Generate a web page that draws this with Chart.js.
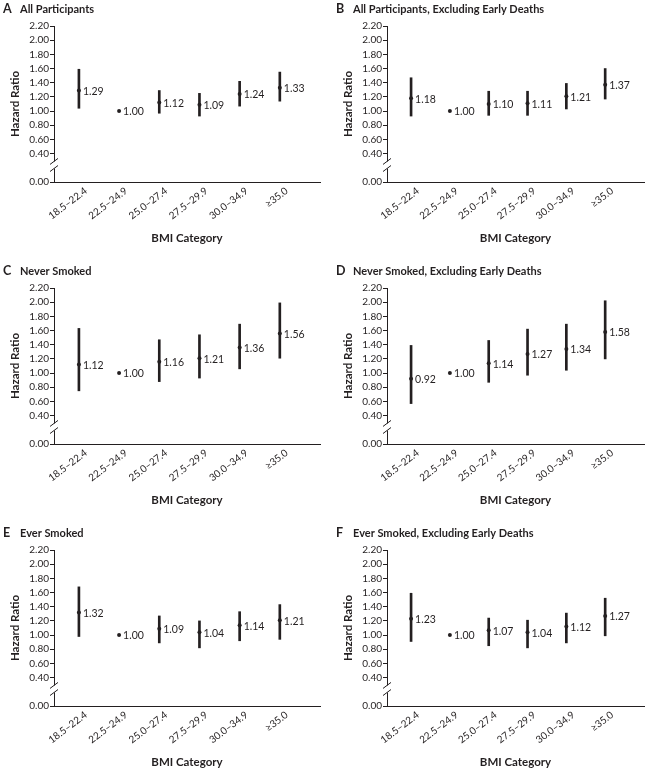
<!DOCTYPE html>
<html>
<head>
<meta charset="utf-8">
<script src="https://cdn.jsdelivr.net/npm/chart.js@4.4.1/dist/chart.umd.min.js"></script>
<style>
    body { margin: 0; background: #fff; }
    #wrap { position: relative; width: 648px; height: 773px; background: #fff; }
    #wrap canvas { position: absolute; }
</style>
</head>
<body>
<div id="wrap"></div>
<script>
// BMI categories on the x axis
const bmiLabels = ['18.5–22.4', '22.5–24.9', '25.0–27.4', '27.5–29.9', '30.0–34.9', '≥35.0'];
// y ticks (0.20 is left out, the axis is broken there)
const yTicks = [0, 0.4, 0.6, 0.8, 1.0, 1.2, 1.4, 1.6, 1.8, 2.0, 2.2];

const panelLetters = ['A', 'B', 'C', 'D', 'E', 'F'];
const panelTitles = [
    'All Participants',
    'All Participants, Excluding Early Deaths',
    'Never Smoked',
    'Never Smoked, Excluding Early Deaths',
    'Ever Smoked',
    'Ever Smoked, Excluding Early Deaths'
];

// hazard ratios and 95% CI per panel (reference category has no CI)
const hrA = [1.29, 1.00, 1.12, 1.09, 1.24, 1.33];
const lowA = [1.04, null, 0.97, 0.93, 1.07, 1.14];
const highA = [1.59, null, 1.29, 1.25, 1.42, 1.55];

const hrB = [1.18, 1.00, 1.10, 1.11, 1.21, 1.37];
const lowB = [0.93, null, 0.94, 0.94, 1.03, 1.17];
const highB = [1.47, null, 1.28, 1.28, 1.39, 1.60];

const hrC = [1.12, 1.00, 1.16, 1.21, 1.36, 1.56];
const lowC = [0.75, null, 0.88, 0.93, 1.06, 1.21];
const highC = [1.63, null, 1.47, 1.54, 1.69, 1.99];

const hrD = [0.92, 1.00, 1.14, 1.27, 1.34, 1.58];
const lowD = [0.57, null, 0.87, 0.97, 1.04, 1.20];
const highD = [1.39, null, 1.46, 1.62, 1.69, 2.02];

const hrE = [1.32, 1.00, 1.09, 1.04, 1.14, 1.21];
const lowE = [0.98, null, 0.89, 0.82, 0.92, 0.94];
const highE = [1.68, null, 1.27, 1.20, 1.33, 1.43];

const hrF = [1.23, 1.00, 1.07, 1.04, 1.12, 1.27];
const lowF = [0.91, null, 0.85, 0.82, 0.89, 0.99];
const highF = [1.59, null, 1.24, 1.21, 1.31, 1.52];

const panelHr = [hrA, hrB, hrC, hrD, hrE, hrF];
const panelLow = [lowA, lowB, lowC, lowD, lowE, lowF];
const panelHigh = [highA, highB, highC, highD, highE, highF];

const INK = '#231f20';
const FONT = 'Lato, "Open Sans", sans-serif';

// panel title: letter + caption above the plot
const panelTitlePlugin = {
    id: 'panelTitle',
    afterDraw(chart, args, opts) {
        const ctx = chart.ctx;
        const y = chart.chartArea.top - 17;
        ctx.save();
        ctx.fillStyle = INK;
        ctx.textBaseline = 'middle';
        ctx.textAlign = 'left';
        ctx.font = `bold 12.5px ${FONT}`;
        ctx.fillText(opts.letter, 3, y);
        ctx.font = `bold 11px ${FONT}`;
        ctx.fillText(opts.text, 20, y);
        ctx.restore();
    }
};

// value label to the right of each point
const valueLabelPlugin = {
    id: 'valueLabels',
    afterDatasetsDraw(chart) {
        const ctx = chart.ctx;
        const meta = chart.getDatasetMeta(0);
        const values = chart.data.datasets[0].data;
        ctx.save();
        ctx.fillStyle = INK;
        ctx.font = `10.5px ${FONT}`;
        ctx.textBaseline = 'middle';
        ctx.textAlign = 'left';
        meta.data.forEach((pt, i) => {
            ctx.fillText(values[i].y.toFixed(2), pt.x + 4, pt.y + 1);
        });
        ctx.restore();
    }
};

// broken-axis mark between 0.00 and 0.40
const axisBreakPlugin = {
    id: 'axisBreak',
    afterDraw(chart) {
        const ctx = chart.ctx;
        const ys = chart.scales.y;
        const x = chart.chartArea.left;
        const yTop = ys.getPixelForValue(0.29);
        const yBot = ys.getPixelForValue(0.19);
        ctx.save();
        ctx.fillStyle = '#fff';
        ctx.fillRect(x - 2, yTop, 4, yBot - yTop);
        ctx.strokeStyle = INK;
        ctx.lineWidth = 1;
        ctx.beginPath();
        ctx.moveTo(x - 4, yTop + 3); ctx.lineTo(x + 4, yTop - 3);
        ctx.moveTo(x - 4, yBot + 3); ctx.lineTo(x + 4, yBot - 3);
        ctx.stroke();
        ctx.restore();
    }
};

function buildPanel(idx) {
    const col = idx % 2;
    const row = Math.floor(idx / 2);
    const canvas = document.createElement('canvas');
    const w = col === 0 ? 324 : 315;
    const h = 249;
    canvas.width = w;
    canvas.height = h;
    canvas.style.width = w + 'px';
    canvas.style.height = h + 'px';
    canvas.style.left = (col === 0 ? 0 : 333) + 'px';
    canvas.style.top = (row * 262) + 'px';
    document.getElementById('wrap').appendChild(canvas);

    const hr = panelHr[idx], lo = panelLow[idx], hi = panelHigh[idx];
    const points = hr.map((v, i) => ({ x: i, y: v }));
    const ci = [];
    lo.forEach((v, i) => { if (v != null) ci.push({ x: i, y: [v, hi[i]] }); });

    new Chart(canvas, {
        type: 'bar',
        data: {
            datasets: [
                {
                    type: 'scatter', data: points, order: 0,
                    pointRadius: 2, pointHoverRadius: 2,
                    pointBackgroundColor: INK, pointBorderColor: INK, pointBorderWidth: 0
                },
                {
                    type: 'bar', data: ci, order: 1,
                    backgroundColor: INK, borderWidth: 0, barThickness: 2
                }
            ]
        },
        options: {
            responsive: false, animation: false,
            layout: { padding: { top: 26, right: 4, left: 0, bottom: 0 } },
            plugins: {
                legend: { display: false },
                tooltip: { enabled: false },
                panelTitle: { letter: panelLetters[idx], text: panelTitles[idx] }
            },
            scales: {
                x: {
                    type: 'linear', min: -0.62, max: 6, offset: false,
                    afterBuildTicks: s => { s.ticks = bmiLabels.map((_, i) => ({ value: i })); },
                    afterFit: s => { s.height = 67; },
                    ticks: {
                        callback: v => bmiLabels[v],
                        autoSkip: false, minRotation: 37, maxRotation: 37,
                        padding: -5, labelOffset: 7,
                        color: INK, font: { family: FONT, size: 10 }
                    },
                    grid: { display: false, offset: false },
                    border: { display: true, color: INK, width: 1 },
                    title: {
                        display: true, text: 'BMI Category', color: INK,
                        font: { family: FONT, size: 11.5, weight: 'bold' },
                        padding: { top: 0, bottom: 4 }
                    }
                },
                y: {
                    min: 0, max: 2.2,
                    afterBuildTicks: s => { s.ticks = yTicks.map(v => ({ value: v })); },
                    afterFit: s => { s.width = 54; },
                    ticks: {
                        callback: v => Number(v).toFixed(2),
                        padding: 1, color: INK, font: { family: FONT, size: 10 }
                    },
                    grid: { display: true, drawOnChartArea: false, drawTicks: true, tickLength: 4, color: INK },
                    border: { display: true, color: INK, width: 1 },
                    title: {
                        display: true, text: 'Hazard Ratio', color: INK,
                        font: { family: FONT, size: 11.5, weight: 'bold' },
                        padding: { top: 8, bottom: 0 }
                    }
                }
            }
        },
        plugins: [panelTitlePlugin, valueLabelPlugin, axisBreakPlugin]
    });
}

panelLetters.forEach((_, i) => buildPanel(i));
</script>
</body>
</html>
